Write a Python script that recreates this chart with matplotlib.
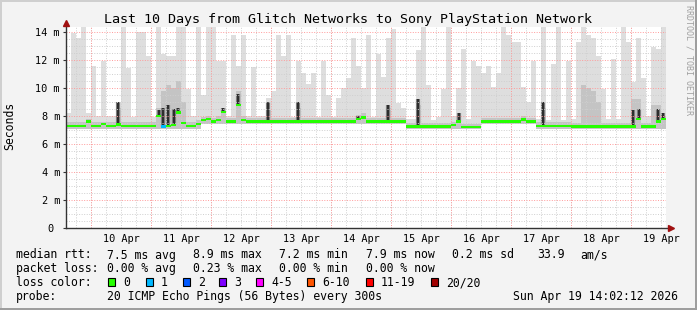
import matplotlib
matplotlib.use("Agg")
import matplotlib.pyplot as plt
import matplotlib.dates as mdates
from matplotlib.patches import Rectangle
from datetime import datetime, timedelta
import numpy as np

plt.rcParams['font.family'] = 'DejaVu Sans Mono'

title = "Last 10 Days from Glitch Networks to Sony PlayStation Network"
start = datetime(2026, 4, 9, 14, 2, 12)
end = datetime(2026, 4, 19, 14, 2, 12)
bin_hours = 2
days = [datetime(2026, 4, d) for d in range(10, 20)]
day_labels = ["10 Apr", "11 Apr", "12 Apr", "13 Apr", "14 Apr",
              "15 Apr", "16 Apr", "17 Apr", "18 Apr", "19 Apr"]

# round trip times in ms, one value per 2 hour bin
max_rtt = [
    8.2, 13.9, 13.6, 14.4, 8.2, 11.6, 8.0, 11.9, 8.0, 8.0, 9.0, 14.4,
    11.4, 7.9, 14.0, 14.0, 12.3, 7.9, 14.4, 12.4, 12.3, 12.3, 14.4, 14.4,
    9.95, 8.0, 14.4, 9.5, 14.4, 14.4, 11.9, 11.9, 8.0, 13.8, 11.6, 13.8,
    8.0, 11.5, 8.0, 8.0, 9.3, 9.8, 13.8, 12.3, 13.8, 7.9, 11.9, 11.1,
    10.3, 11.1, 7.9, 11.9, 9.5, 7.9, 9.3, 10.0, 10.7, 13.6, 11.6, 10.0,
    13.8, 7.9, 12.4, 10.8, 13.6, 14.2, 8.9, 8.6, 7.8, 7.8, 12.7, 14.4,
    10.2, 7.7, 7.9, 9.95, 14.4, 8.0, 10.0, 12.8, 7.8, 11.9, 11.6, 11.1,
    11.6, 10.1, 11.1, 14.4, 13.8, 13.3, 13.3, 10.1, 9.0, 11.9, 7.8, 14.4,
    7.7, 11.7, 14.4, 7.7, 11.9, 7.8, 13.3, 14.4, 13.8, 13.6, 12.3, 9.95,
    7.8, 12.1, 7.8, 14.4, 13.3, 10.4, 13.6, 10.7, 8.0, 12.9, 12.8, 14.4,
]
mid_rtt = [
    7.55, 7.55, 7.55, 7.55, 7.8, 7.55, 7.55, 7.6, 7.55, 7.55, 8.6, 7.55,
    7.55, 7.55, 7.55, 7.55, 7.55, 7.55, 8.6, 9.8, 10.2, 10.0, 10.5, 9.0,
    7.6, 7.6, 7.7, 7.95, 8.0, 7.85, 8.0, 8.6, 7.85, 7.85, 9.8, 8.0,
    7.85, 7.85, 7.85, 7.85, 8.4, 7.85, 7.85, 7.85, 7.85, 7.85, 8.6, 7.85,
    7.85, 7.85, 7.85, 7.85, 7.85, 7.85, 7.85, 7.85, 7.85, 7.85, 8.1, 8.2,
    7.85, 7.85, 7.85, 7.85, 8.6, 7.85, 7.85, 7.85, 7.5, 7.5, 8.8, 7.5,
    7.5, 7.5, 7.5, 7.5, 7.5, 7.6, 8.0, 7.45, 7.45, 7.45, 7.45, 7.85,
    7.85, 7.85, 7.85, 7.85, 7.85, 7.85, 7.85, 8.0, 7.85, 7.85, 7.55, 8.6,
    7.55, 7.55, 7.55, 7.55, 7.55, 7.5, 7.5, 10.2, 10.0, 9.8, 9.0, 7.5,
    7.5, 7.5, 7.5, 7.5, 7.5, 9.2, 9.2, 7.5, 7.5, 8.8, 8.8, 8.0,
]
dark_rtt = [
    7.3, 7.3, 7.3, 7.3, 7.6, 7.3, 7.3, 7.45, 7.3, 7.3, 9.0, 7.3,
    7.3, 7.3, 7.3, 7.3, 7.3, 7.3, 8.4, 8.6, 8.8, 8.5, 8.6, 7.5,
    7.3, 7.3, 7.45, 7.7, 7.8, 7.6, 7.7, 8.6, 7.6, 7.6, 9.6, 7.7,
    7.6, 7.6, 7.6, 7.6, 9.0, 7.6, 7.6, 7.6, 7.6, 7.6, 9.0, 7.6,
    7.6, 7.6, 7.6, 7.6, 7.6, 7.6, 7.6, 7.6, 7.6, 7.6, 8.0, 7.9,
    7.6, 7.6, 7.6, 7.6, 8.8, 7.6, 7.6, 7.6, 7.25, 7.25, 9.2, 7.25,
    7.25, 7.25, 7.25, 7.25, 7.25, 7.35, 8.2, 7.2, 7.2, 7.2, 7.2, 7.6,
    7.6, 7.6, 7.6, 7.6, 7.6, 7.6, 7.6, 7.75, 7.6, 7.6, 7.3, 9.0,
    7.3, 7.3, 7.3, 7.3, 7.3, 7.25, 7.25, 7.25, 7.25, 7.25, 7.25, 7.25,
    7.25, 7.25, 7.25, 7.25, 7.25, 8.4, 8.5, 7.25, 7.25, 7.25, 8.5, 8.2,
]
median_rtt = [
    7.3, 7.3, 7.3, 7.3, 7.6, 7.3, 7.3, 7.45, 7.3, 7.3, 7.4, 7.3,
    7.3, 7.3, 7.3, 7.3, 7.3, 7.3, 8.0, 7.25, 7.3, 7.35, 8.25, 7.5,
    7.3, 7.3, 7.45, 7.7, 7.8, 7.6, 7.7, 8.3, 7.6, 7.6, 8.8, 7.7,
    7.6, 7.6, 7.6, 7.6, 7.6, 7.6, 7.6, 7.6, 7.6, 7.6, 7.6, 7.6,
    7.6, 7.6, 7.6, 7.6, 7.6, 7.6, 7.6, 7.6, 7.6, 7.6, 7.8, 7.9,
    7.6, 7.6, 7.6, 7.6, 7.6, 7.6, 7.6, 7.6, 7.25, 7.25, 7.25, 7.25,
    7.25, 7.25, 7.25, 7.25, 7.25, 7.35, 7.6, 7.2, 7.2, 7.2, 7.2, 7.6,
    7.6, 7.6, 7.6, 7.6, 7.6, 7.6, 7.6, 7.75, 7.6, 7.6, 7.3, 7.3,
    7.3, 7.3, 7.3, 7.3, 7.3, 7.25, 7.25, 7.25, 7.25, 7.25, 7.25, 7.25,
    7.25, 7.25, 7.25, 7.25, 7.25, 7.25, 7.8, 7.25, 7.25, 7.25, 7.6, 7.8,
]
low_rtt = [7.1] * 27 + [7.4] * 41 + [7.05] * 15 + [7.4] * 11 + [7.05] * 26
loss = [0] * 19 + [1] + [0] * 100

loss_names = ["0", "1", "2", "3", "4-5", "6-10", "11-19", "20/20"]
loss_colors = ["#26ff00", "#00b8ff", "#0059ff", "#7e00ff",
               "#ff00ff", "#ff5500", "#ff0000", "#a10000"]

W, H = 697, 310
fig = plt.figure(figsize=(W / 100, H / 100), dpi=100, facecolor="#f3f3f3")

# 3d frame
for (x, y, w, h, c) in [(0, 0, 2, H, "#cfcfcf"), (0, H - 2, W, 2, "#cfcfcf"),
                        (W - 2, 0, 2, H, "#9e9e9e"), (0, 0, W, 2, "#9e9e9e")]:
    fig.add_artist(Rectangle((x / W, y / H), w / W, h / H, transform=fig.transFigure,
                             facecolor=c, edgecolor="none"))

ax = fig.add_axes([66 / W, 82 / H, 600 / W, 201 / H])
ax.set_facecolor("white")

edges = [start + timedelta(hours=bin_hours * i) for i in range(len(max_rtt) + 1)]
centers = [start + timedelta(hours=bin_hours * (i + 0.5)) for i in range(len(max_rtt))]


def stepped(v):
    return np.append(np.asarray(v, dtype=float), v[-1])


ax.fill_between(edges, stepped(low_rtt), stepped(max_rtt), step="post",
                color="#dedede", lw=0, zorder=1)
ax.fill_between(edges, stepped(low_rtt), stepped(mid_rtt), step="post",
                color="#c4c4c4", lw=0, zorder=1.1)
ax.vlines(centers, median_rtt, dark_rtt, color="#7a7a7a", lw=3, zorder=1.2)
ax.vlines(centers, median_rtt, dark_rtt, color="#1e1e1e", lw=1.2, zorder=1.3)

med = stepped(median_rtt)
ax.fill_between(edges, med - 0.08, med + 0.08, step="post",
                color=loss_colors[0], lw=0, zorder=3)
for i, l in enumerate(loss):
    if l > 0:
        ax.fill_between(edges[i:i + 2], [median_rtt[i] - 0.08] * 2,
                        [median_rtt[i] + 0.08] * 2, color=loss_colors[l],
                        lw=0, zorder=3.1)

ax.set_xlim(start, end)
ax.set_ylim(0, 201 / 14)

# axes, ticks, grid
noons = [d + timedelta(hours=12) for d in days]
ax.set_xticks(noons, day_labels)
ax.xaxis.set_minor_locator(mdates.HourLocator(byhour=[0, 6, 12, 18]))
ax.xaxis.remove_overlapping_locs = False
yt = list(range(0, 15, 2))
ax.set_yticks(yt, ["0 "] + [f"{v} m" for v in yt[1:]])
ax.set_yticks(np.arange(0, 14.4, 0.5), minor=True)

ax.tick_params(axis="x", which="both", length=0, pad=4, labelsize=7.4)
ax.tick_params(axis="y", which="major", length=2.2, width=0.8, pad=2.2,
               labelsize=7.4, color="#333333")
ax.tick_params(axis="y", which="minor", length=0)

ax.set_axisbelow(False)
ax.grid(True, which="minor", axis="both", color="#cfcfcf", lw=0.7,
        linestyle=(0, (1, 1.6)))
ax.yaxis.grid(True, which="major", color="#ff9a9a", lw=0.7, linestyle=(0, (1, 1.6)))
ax.xaxis.grid(False, which="major")
for d in days:
    ax.axvline(d, color="#ff9a9a", lw=0.7, linestyle=(0, (1, 1.6)), zorder=2.6)

for s in ax.spines.values():
    s.set_visible(False)
ax.plot([0, 0], [0, 1 + 3 / 201], transform=ax.transAxes, color="#333333",
        lw=1, clip_on=False, zorder=4)
ax.plot([0, 1 + 3 / 600], [0, 0], transform=ax.transAxes, color="#333333",
        lw=1, clip_on=False, zorder=4)
ax.plot([0], [1 + 4 / 201], transform=ax.transAxes, marker="^", ms=4.5,
        color="#a01010", clip_on=False, zorder=5)
ax.plot([1 + 5 / 600], [0], transform=ax.transAxes, marker=">", ms=4.5,
        color="#a01010", clip_on=False, zorder=5)


def ftext(x, y, s, **kw):
    fig.text(x / W, 1 - y / H, s, va="center", **kw)


ftext(348.5, 19, title, ha="center", fontsize=9.6)
ftext(10, 126, "Seconds", ha="center", rotation=90, fontsize=8.3)
ftext(689, 60, "RRDTOOL / TOBI OETIKER", ha="center", rotation=-90,
      fontsize=6, color="#a0a0a0")

fs = 8.3
row1 = [(16, "median rtt:"), (107, "7.5 ms avg"), (193, "8.9 ms max"),
        (279, "7.2 ms min"), (366, "7.9 ms now"), (452, "0.2 ms sd"),
        (537, "33.9"), (580, "am/s")]
row2 = [(16, "packet loss:"), (107, "0.00 % avg"), (193, "0.23 % max"),
        (279, "0.00 % min"), (366, "0.00 % now")]
for x, s in row1:
    ftext(x, 255, s, fontsize=fs)
for x, s in row2:
    ftext(x, 268.5, s, fontsize=fs)

ftext(16, 282.5, "loss color:", fontsize=fs)
box_x = [108, 146, 183, 219, 256, 307, 366, 431]
for bx, name, c in zip(box_x, loss_names, loss_colors):
    fig.add_artist(Rectangle((bx / W, 1 - 286 / H), 7 / W, 8 / H,
                             transform=fig.transFigure, facecolor=c,
                             edgecolor="black", lw=0.8))
    ftext(bx + 15, 282.5, name, fontsize=fs)

ftext(16, 296.5, "probe:", fontsize=fs)
ftext(107, 296.5, "20 ICMP Echo Pings (56 Bytes) every 300s", fontsize=fs)
ftext(513, 296.5, "Sun Apr 19 14:02:12 2026", fontsize=fs)

fig.savefig("out.png", dpi=100, facecolor=fig.get_facecolor())
